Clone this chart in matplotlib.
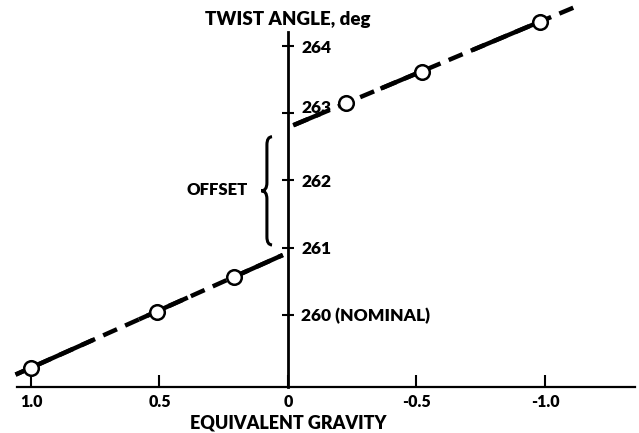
import matplotlib
matplotlib.use("Agg")
import matplotlib.pyplot as plt
import matplotlib.transforms as mtransforms
from matplotlib.path import Path
from matplotlib.patches import PathPatch

plt.rcParams['font.family'] = ['Lato', 'DejaVu Sans']
plt.rcParams['font.weight'] = 'heavy'

# dane
grawitacja_lewa = [1.0, 0.51, 0.21]
kat_lewy = [259.21, 260.04, 260.56]
grawitacja_prawa = [-0.226, -0.52, -0.98]
kat_prawy = [263.15, 263.61, 264.36]

# proste dopasowane (kat = a + b*g), prawa rysowana od konca
linia_lewa_g = [1.06, 0.02]
linia_lewa_kat = [259.11, 260.89]
linia_prawa_g = [-1.11, -0.02]
linia_prawa_kat = [264.57, 262.82]

# odcinki ciagle (reszta linii przerywana)
ciagle_lewe = [(1.06, 0.76), (0.58, 0.39), (0.19, 0.02)]
ciagle_prawe = [(-0.02, -0.125), (-0.36, -0.52), (-0.72, -0.97)]

x_ticks = [1.0, 0.5, 0.0, -0.5, -1.0]
x_labels = ["1.0", "0.5", "0", "-0.5", "-1.0"]
y_ticks = [260, 261, 262, 263, 264]
y_labels = ["260 (NOMINAL)", "261", "262", "263", "264"]

os_x_poziom = 258.93
waga = "heavy"


def kat_na_prostej(g, gs, ks):
    return ks[0] + (ks[1] - ks[0]) * (g - gs[0]) / (gs[1] - gs[0])


fig = plt.figure(figsize=(6.39, 4.33), dpi=100)
ax = fig.add_axes([0, 0, 1, 1])
ax.set_xlim(1.1206, -1.3658)
ax.set_ylim(258.241, 264.685)

# linie przerywane
for gs, ks in [(linia_lewa_g, linia_lewa_kat), (linia_prawa_g, linia_prawa_kat)]:
    ax.plot(gs, ks, color="black", lw=3.2, dashes=(3.4, 2.0), solid_capstyle="butt",
            dash_capstyle="butt", zorder=2)
for odcinki, gs, ks in [(ciagle_lewe, linia_lewa_g, linia_lewa_kat),
                        (ciagle_prawe, linia_prawa_g, linia_prawa_kat)]:
    for g0, g1 in odcinki:
        ax.plot([g0, g1], [kat_na_prostej(g0, gs, ks), kat_na_prostej(g1, gs, ks)],
                color="black", lw=3.2, solid_capstyle="butt", zorder=2)

# punkty
ax.plot(grawitacja_lewa, kat_lewy, "o", ms=10.5, mfc="white", mec="black", mew=1.8, zorder=3)
ax.plot(grawitacja_prawa, kat_prawy, "o", ms=10.5, mfc="white", mec="black", mew=1.8, zorder=3)

# osie
for s in ["left", "top"]:
    ax.spines[s].set_visible(False)
ax.spines["right"].set_position(("data", 0))
ax.spines["right"].set_bounds(os_x_poziom, 264.21)
ax.spines["right"].set_linewidth(2)
ax.spines["bottom"].set_position(("data", os_x_poziom))
ax.spines["bottom"].set_bounds(1.054, -1.35)
ax.spines["bottom"].set_linewidth(1.6)

ax.yaxis.tick_right()
ax.set_xticks(x_ticks)
ax.set_xticklabels(x_labels)
ax.set_yticks(y_ticks)
ax.set_yticklabels(y_labels)
ax.tick_params(axis="x", direction="in", length=9, width=1.5, pad=5, labelsize=11.5)
ax.tick_params(axis="y", direction="inout", length=9, width=1.5, pad=5, labelsize=12.5)
for t in ax.get_xticklabels() + ax.get_yticklabels():
    t.set_fontweight(waga)
# etykieta 263 lezy nad linia jak w oryginale
etykieta_263 = ax.get_yticklabels()[3]
etykieta_263.set_transform(etykieta_263.get_transform() +
                           mtransforms.ScaledTranslation(0, 5 / 72, fig.dpi_scale_trans))

ax.text(0, 264.39, "TWIST ANGLE, deg", ha="center", va="center", fontsize=13.5, fontweight=waga)
ax.text(0.0, 258.21 + 0.05, "EQUIVALENT GRAVITY", ha="center", va="bottom", fontsize=13, fontweight=waga)
ax.text(0.156, 261.86, "OFFSET", ha="right", va="center", fontsize=12, fontweight=waga)

# klamra
klamra_gora, klamra_dol = 262.65, 261.04
xr, xm, xl = 0.062, 0.082, 0.104
srodek = (klamra_gora + klamra_dol) / 2
d = 0.12
wierzcholki = [(xr, klamra_gora), (xm, klamra_gora), (xm, klamra_gora - d),
               (xm, srodek + d), (xm, srodek), (xl, srodek),
               (xm, srodek), (xm, srodek - d),
               (xm, klamra_dol + d), (xm, klamra_dol), (xr, klamra_dol)]
kody = [Path.MOVETO, Path.CURVE3, Path.CURVE3,
        Path.LINETO, Path.CURVE3, Path.CURVE3,
        Path.CURVE3, Path.CURVE3,
        Path.LINETO, Path.CURVE3, Path.CURVE3]
ax.add_patch(PathPatch(Path(wierzcholki, kody), fill=False, lw=2.2, color="black"))

fig.savefig("out.png", dpi=100)
